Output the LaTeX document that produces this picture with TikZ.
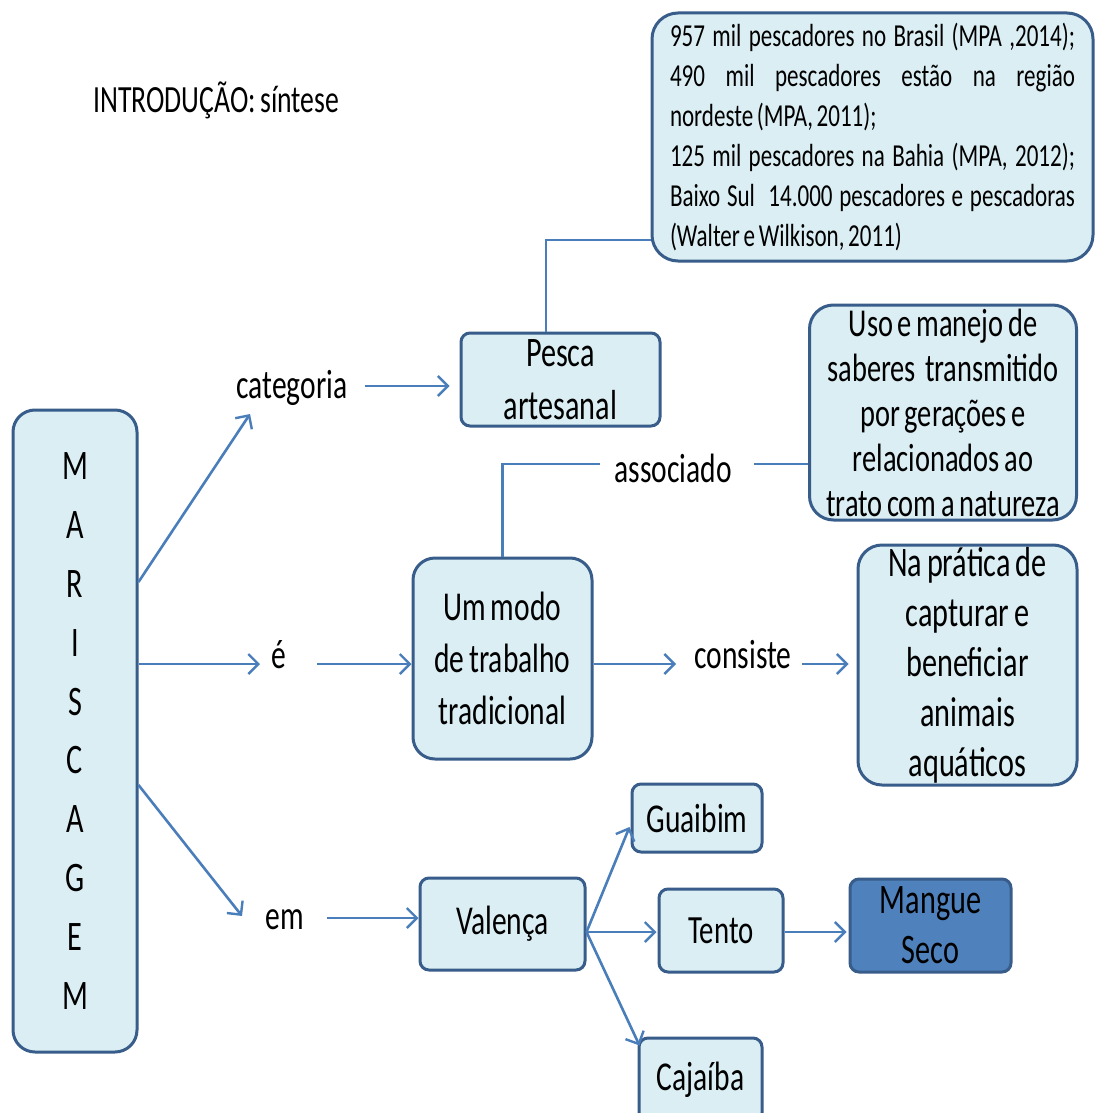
\documentclass[tikz,border=0pt]{standalone}
\usepackage{fontspec}
\setmainfont{Carlito}[FakeStretch=0.72, WordSpace=0.7]
\usetikzlibrary{arrows.meta}
\definecolor{boxfill}{RGB}{219,238,244}
\definecolor{boxline}{RGB}{56,93,138}
\definecolor{linkcol}{RGB}{74,126,187}
\definecolor{darkfill}{RGB}{79,129,189}
% one line of the data box, spread to the full width or set flush left
\newcommand{\dadosfull}[1]{\makebox[405pt][s]{#1}}
\newcommand{\dadosleft}[1]{\makebox[405pt][l]{#1}}
\begin{document}
\begin{tikzpicture}[x=1pt,y=-1pt,
  box/.style={draw=boxline, line width=3pt, fill=boxfill, rectangle,
    inner xsep=0pt, inner ysep=0pt, align=center, text=black},
  link/.style={draw=linkcol, line width=2.6pt},
  arr/.style={link, -{Straight Barb[length=10pt,width=20pt,line width=2.4pt]}},
  lbl/.style={inner sep=0pt, font=\fontsize{41}{49}\selectfont}]
\clip (0,0) rectangle (1095,1113);
\fill[white] (0,0) rectangle (1095,1113);

% heading
\node[anchor=base west, inner sep=0pt, font=\fontsize{38.5}{46}\selectfont]
  (titulo) at (93,113) {INTRODUÇÃO: síntese};

% boxes
\node[box, rounded corners=22pt, minimum width=124pt, minimum height=642pt,
  font=\fontsize{42}{58.8}\selectfont] (maris) at (75,731)
  {M\\A\\R\\I\\S\\C\\A\\G\\E\\M};

\node[box, rounded corners=26pt, minimum width=441pt, minimum height=248pt,
  align=left, font=\fontsize{32}{40}\selectfont]
  (dados) at (872.5,137)
  {\dadosfull{957 mil pescadores no Brasil (MPA ,2014);}\\
   \dadosfull{490 mil pescadores estão na região}\\
   \dadosleft{nordeste (MPA, 2011);}\\
   \dadosfull{125 mil pescadores na Bahia (MPA, 2012);}\\
   \dadosfull{Baixo Sul\ \ 14.000 pescadores e pescadoras}\\
   \dadosleft{(Walter e Wilkison, 2011)}};

\node[box, rounded corners=9pt, minimum width=199pt, minimum height=93pt,
  font=\fontsize{42}{53}\selectfont] (pesca) at (560.5,379.5) {Pesca\\artesanal};

\node[box, rounded corners=22pt, minimum width=179pt, minimum height=201pt,
  font=\fontsize{41}{52}\selectfont] (modo) at (502.5,658.5)
  {Um modo\\de trabalho\\tradicional};

\node[box, rounded corners=24pt, minimum width=267pt, minimum height=215pt,
  font=\fontsize{39.5}{45}\selectfont] (uso) at (943,412.5)
  {Uso e manejo de\\saberes\ \ transmitido\\por gerações e\\relacionados ao\\trato com a natureza};

\node[box, rounded corners=24pt, minimum width=219pt, minimum height=240pt,
  font=\fontsize{42}{50}\selectfont] (pratica) at (967.5,665)
  {Na prática de\\capturar e\\beneficiar\\animais\\aquáticos};

\node[box, rounded corners=9pt, minimum width=165pt, minimum height=92pt,
  font=\fontsize{41}{50}\selectfont] (valenca) at (502.5,924) {Valença};
\node[box, rounded corners=9pt, minimum width=130pt, minimum height=68pt,
  font=\fontsize{41}{50}\selectfont] (guai) at (697,818) {Guaibim};
\node[box, rounded corners=9pt, minimum width=124pt, minimum height=83pt,
  font=\fontsize{40}{50}\selectfont] (tento) at (721,930.5) {Tento};
\node[box, fill=darkfill, rounded corners=9pt, minimum width=161pt, minimum height=93pt,
  font=\fontsize{42}{50}\selectfont] (mangue) at (930.5,925.5) {Mangue\\Seco};
\node[box, rounded corners=9pt, minimum width=123pt, minimum height=84pt,
  font=\fontsize{41}{50}\selectfont] (caja) at (700.5,1080) {\raisebox{5pt}{Cajaíba}};

% linking words
\node[lbl] (cat) at (292,388) {categoria};
\node[lbl] (e) at (279,655) {é};
\node[lbl] (em) at (285,920) {em};
\node[lbl] (cons) at (743,655) {consiste};
\node[lbl] (assoc) at (673,468) {associado};

% connectors
\draw[arr] ([shift={(0,-149)}]maris.east) -- ([shift={(-42,26)}]cat.center);
\draw[arr] ([shift={(73,-2)}]cat.center) -- ([shift={(-10,6.5)}]pesca.west);
\draw[arr] ([shift={(0,-67)}]maris.east) -- ([shift={(-19,9)}]e.center);
\draw[arr] ([shift={(38,9)}]e.center) -- ([shift={(0,5.5)}]modo.west);
\draw[arr] ([shift={(0,54)}]maris.east) -- ([shift={(-43,-4)}]em.center);
\draw[arr] ([shift={(42,-2)}]em.center) -- ([shift={(0,-6)}]valenca.west);
\draw[arr] ([shift={(0,5.5)}]modo.east) -- ([shift={(-67,9)}]cons.center);
\draw[arr] ([shift={(59,9)}]cons.center) -- ([shift={(-8,-1)}]pratica.west);
\draw[link] (modo.north) |- ([shift={(-73,-4)}]assoc.center);
\draw[link] ([shift={(81,-4)}]assoc.center) -- ([shift={(0,51.5)}]uso.west);
\draw[link] ([shift={(-14.5,0)}]pesca.north) |- ([shift={(0,103)}]dados.west);
\draw[arr] ([shift={(0,8)}]valenca.east) -- ([shift={(-1,9)}]guai.west);
\draw[arr] ([shift={(0,8)}]valenca.east) -- ([shift={(-1,1.5)}]tento.west);
\draw[arr] ([shift={(0,8)}]valenca.east) -- ([shift={(2,9)}]caja.north west);
\draw[arr] ([shift={(0,1.5)}]tento.east) -- ([shift={(-2,6.5)}]mangue.west);
\end{tikzpicture}
\end{document}
